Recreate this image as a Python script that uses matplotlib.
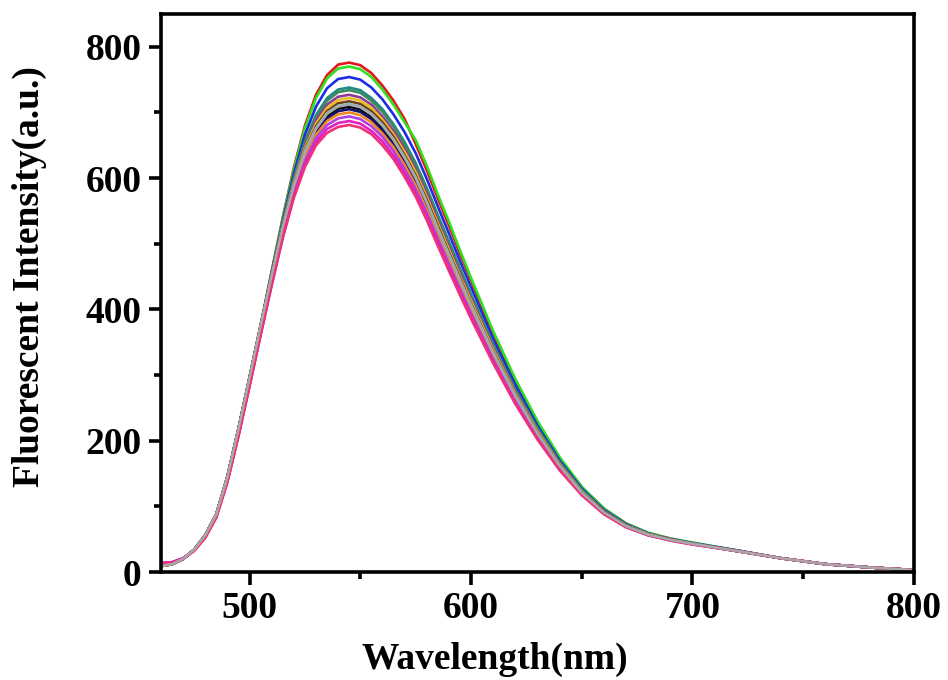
import matplotlib
matplotlib.use("Agg")
import matplotlib.pyplot as plt
from matplotlib.ticker import MultipleLocator

wavelength = [460, 465, 470, 475, 480, 485, 490, 495, 500, 505,
              510, 515, 520, 525, 530, 535, 540, 545, 550, 555,
              560, 565, 570, 575, 580, 585, 590, 595, 600, 610,
              620, 630, 640, 650, 660, 670, 680, 690, 700, 720,
              740, 760, 780, 800]

red = [9, 12, 20, 34, 56, 88, 145, 218, 296, 375,
       458, 540, 616, 680, 727, 757, 773, 776, 772, 760,
       741, 718, 690, 652, 612, 569, 528, 485, 444, 363,
       291, 228, 173, 129, 96, 74, 59, 51, 44, 33,
       21, 12, 7, 3]
green = [9, 12, 20, 34, 56, 88, 145, 218, 296, 375,
         458, 539, 613, 676, 722, 752, 767, 770, 766, 754,
         735, 712, 685, 658, 619, 575, 534, 490, 448, 367,
         294, 230, 175, 130, 97, 74, 60, 51, 45, 33,
         21, 12, 7, 3]
blue = [9, 12, 20, 34, 56, 88, 145, 218, 296, 375,
        456, 535, 607, 666, 709, 737, 751, 754, 750, 738,
        720, 697, 670, 638, 599, 557, 516, 474, 434, 355,
        285, 223, 170, 127, 95, 73, 59, 50, 44, 33,
        21, 12, 7, 3]
teal = [9, 12, 20, 34, 56, 88, 145, 218, 296, 375,
        455, 531, 600, 656, 696, 722, 735, 738, 734, 722,
        705, 682, 655, 623, 585, 544, 504, 463, 423, 347,
        278, 219, 167, 125, 94, 72, 58, 50, 44, 32,
        21, 12, 7, 3]
dkgreen = [9, 12, 20, 34, 56, 88, 145, 218, 296, 375,
           454, 531, 598, 654, 693, 718, 731, 734, 730, 718,
           701, 679, 651, 620, 582, 541, 501, 460, 420, 345,
           277, 217, 166, 124, 93, 71, 58, 50, 44, 32,
           21, 12, 7, 3]
purple = [9, 12, 20, 34, 56, 88, 145, 218, 296, 375,
          454, 529, 595, 649, 688, 712, 724, 727, 723, 712,
          694, 672, 645, 613, 576, 535, 495, 455, 416, 341,
          274, 215, 165, 123, 93, 71, 58, 50, 43, 32,
          21, 12, 7, 3]
gold = [9, 12, 20, 34, 56, 88, 145, 218, 296, 375,
        453, 528, 593, 646, 683, 707, 719, 722, 718, 707,
        689, 667, 640, 609, 571, 531, 491, 451, 413, 339,
        272, 214, 164, 123, 92, 71, 58, 49, 43, 32,
        21, 12, 7, 3]
brown = [9, 12, 20, 34, 56, 88, 145, 218, 296, 375,
         453, 527, 591, 643, 679, 702, 714, 717, 713, 702,
         685, 663, 635, 604, 567, 527, 487, 448, 409, 336,
         270, 212, 163, 122, 92, 70, 57, 49, 43, 32,
         21, 12, 7, 3]
cyan = [9, 12, 20, 34, 56, 88, 145, 218, 296, 375,
        452, 526, 590, 641, 676, 699, 710, 713, 709, 698,
        681, 659, 632, 601, 563, 523, 484, 445, 407, 334,
        269, 211, 162, 122, 91, 70, 57, 49, 43, 32,
        21, 12, 7, 3]
black = [9, 12, 20, 34, 56, 88, 145, 218, 296, 375,
         452, 525, 588, 638, 673, 695, 706, 709, 705, 694,
         677, 655, 628, 597, 560, 520, 481, 442, 404, 332,
         267, 210, 161, 121, 91, 70, 57, 49, 43, 32,
         21, 12, 7, 3]
navy = [9, 12, 20, 34, 56, 88, 145, 218, 296, 375,
        452, 524, 586, 636, 670, 691, 702, 705, 701, 690,
        673, 651, 624, 593, 557, 517, 478, 439, 401, 330,
        265, 209, 160, 120, 91, 70, 57, 49, 43, 32,
        21, 12, 7, 3]
orange = [9, 12, 20, 34, 56, 88, 145, 218, 296, 375,
          451, 523, 584, 632, 666, 687, 697, 700, 696, 685,
          668, 647, 620, 589, 552, 513, 474, 436, 398, 327,
          263, 207, 159, 120, 90, 69, 57, 49, 43, 32,
          21, 12, 7, 3]
violet = [14, 15, 21, 33, 53, 84, 138, 208, 284, 362,
          439, 512, 576, 626, 661, 681, 691, 694, 690, 679,
          663, 641, 614, 583, 547, 508, 469, 431, 394, 324,
          261, 206, 158, 119, 90, 69, 56, 49, 43, 32,
          21, 12, 7, 3]
magenta = [14, 15, 21, 33, 53, 84, 138, 208, 284, 362,
           438, 510, 573, 621, 655, 675, 684, 687, 683, 672,
           656, 634, 608, 577, 541, 502, 464, 426, 390, 321,
           258, 203, 157, 118, 89, 69, 56, 48, 42, 32,
           21, 12, 7, 3]
pink = [13, 14, 20, 32, 52, 83, 137, 207, 283, 361,
        437, 509, 570, 617, 650, 669, 678, 681, 677, 667,
        650, 629, 602, 572, 536, 497, 459, 422, 386, 318,
        256, 202, 155, 117, 88, 68, 56, 48, 42, 32,
        21, 12, 7, 3]
gray = [9, 12, 20, 34, 56, 88, 145, 218, 296, 375,
        452, 526, 589, 640, 675, 698, 709, 712, 708, 697,
        680, 658, 631, 600, 563, 522, 483, 444, 406, 334,
        268, 211, 162, 121, 91, 70, 57, 49, 43, 32,
        21, 12, 7, 3]

series = [red, green, blue, teal, dkgreen, purple, gold, brown, cyan,
          black, navy, orange, violet, magenta, pink, gray]
colors = ['#e8141b', '#2ee01e', '#1c2ce0', '#1f8a8a', '#3d8a5c', '#8e3a9a',
          '#e8c020', '#7a3b10', '#70d0e8', '#000000', '#10106e', '#f08a20',
          '#b040e0', '#e020c0', '#f0307a', '#a8a8a8']

x_ticks = [500, 600, 700, 800]
y_ticks = [0, 200, 400, 600, 800]

plt.rcParams['font.family'] = ['Liberation Serif', 'DejaVu Serif']
plt.rcParams['font.weight'] = 'bold'

fig = plt.figure(figsize=(9.48, 6.80), dpi=100)
ax = fig.add_axes([0.1698, 0.1588, 0.7943, 0.8206])

for vals, c in zip(series, colors):
    ax.plot(wavelength, vals, color=c, lw=1.9, solid_joinstyle='round')

ax.set_xlim(460, 800)
ax.set_ylim(0, 850)
ax.set_xticks(x_ticks)
ax.set_yticks(y_ticks)
ax.xaxis.set_minor_locator(MultipleLocator(50))
ax.yaxis.set_minor_locator(MultipleLocator(100))

for s in ax.spines.values():
    s.set_linewidth(2.6)
ax.tick_params(which='major', direction='out', length=9, width=2.6,
               labelsize=27, pad=5)
ax.tick_params(which='minor', direction='out', length=5, width=2.6)
for lab in ax.get_xticklabels() + ax.get_yticklabels():
    lab.set_fontweight('bold')

ax.set_xlabel('Wavelength(nm)', fontsize=27, fontweight='bold')
ax.set_ylabel('Fluorescent Intensity(a.u.)', fontsize=27, fontweight='bold')
ax.xaxis.set_label_coords(0.4436, -0.125)
ax.yaxis.set_label_coords(-0.151, 0.53)

fig.savefig('out.png', dpi=100)
